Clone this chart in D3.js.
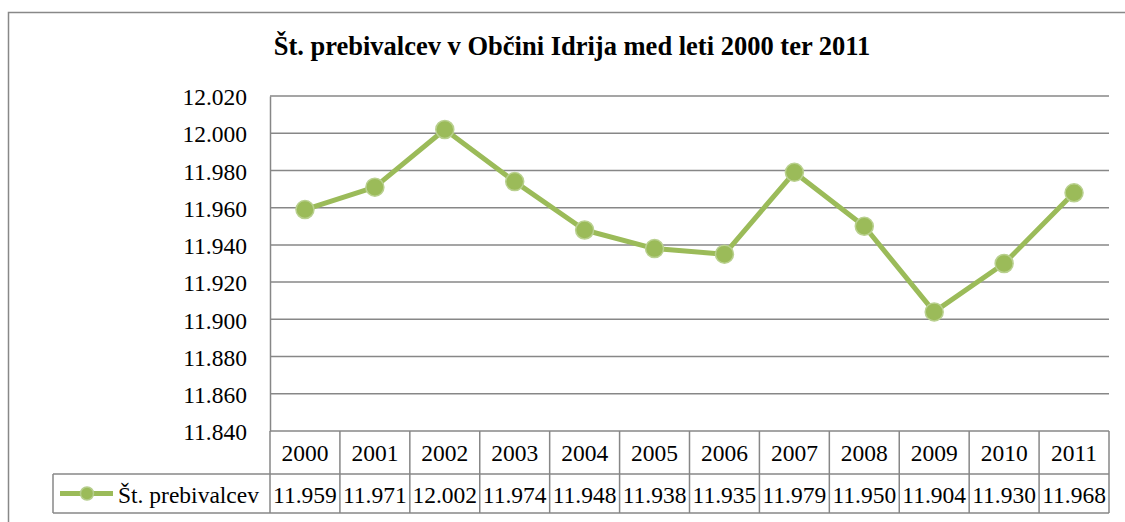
<!DOCTYPE html>
<html>
<head>
<meta charset="utf-8">
<script src="https://cdn.jsdelivr.net/npm/d3@7"></script>
<style>
  body { margin: 0; background: #fff; }
</style>
</head>
<body>
<svg class="chart" width="1125" height="522"></svg>
<script>
let years = ['2000', '2001', '2002', '2003', '2004', '2005', '2006', '2007', '2008', '2009', '2010', '2011'];
let residents = [11.959, 11.971, 12.002, 11.974, 11.948, 11.938, 11.935, 11.979, 11.950, 11.904, 11.930, 11.968];
let yTicks = [11.840, 11.860, 11.880, 11.900, 11.920, 11.940, 11.960, 11.980, 12.000, 12.020];
let seriesName = 'Št. prebivalcev';
let title = 'Št. prebivalcev v Občini Idrija med leti 2000 ter 2011';

let margin = {top: 96, left: 270, right: 1125 - 1109},
    plotBottom = 431, rowH1 = 43, rowH2 = 39;
let width = 1125 - margin.left - margin.right;

let green = '#9bbb59', gridColor = '#878787';
let serif = '"Liberation Serif"';
let fontSize = '23.5px';
let fmt = (v) => v.toFixed(3);

let svg = d3.select('.chart');

// outer frame
svg.append('rect')
    .attr('x', 8.5).attr('y', 12.5)
    .attr('width', 1140).attr('height', 540)
    .attr('fill', 'none').attr('stroke', '#888').attr('stroke-width', 1.5);

svg.append('text')
    .attr('x', 572).attr('y', 55)
    .attr('text-anchor', 'middle')
    .style('font-family', serif)
    .style('font-size', '26.5px').style('font-weight', 'bold')
    .text(title);

let x = d3.scaleBand().domain(years).range([margin.left, margin.left + width]);
let y = d3.scaleLinear().domain([11.840, 12.020]).range([plotBottom, margin.top]);

// gridlines
svg.append('g')
    .selectAll('line')
    .data(yTicks)
    .enter().append('line')
    .attr('x1', margin.left).attr('x2', margin.left + width)
    .attr('y1', (d) => y(d)).attr('y2', (d) => y(d))
    .attr('stroke', gridColor).attr('stroke-width', 1.5);

// y axis
let yAxis = d3.axisLeft(y).tickValues(yTicks).tickSize(0).tickPadding(23).tickFormat(fmt);
let yg = svg.append('g')
    .attr('transform', 'translate(' + margin.left + ',0)')
    .call(yAxis);
yg.select('.domain').attr('stroke', gridColor).attr('stroke-width', 1.5);
yg.selectAll('text')
    .style('font-family', serif).style('font-size', fontSize)
    .attr('dy', '0.37em');

// data table
let t1 = plotBottom, t2 = plotBottom + rowH1, t3 = t2 + rowH2;
let tbl = svg.append('g').attr('stroke', gridColor).attr('stroke-width', 1.5);
let colEdges = years.map((d) => x(d)).concat([margin.left + width]);
tbl.selectAll('line.col')
    .data(colEdges)
    .enter().append('line')
    .attr('class', 'col')
    .attr('x1', (d) => d).attr('x2', (d) => d)
    .attr('y1', t1).attr('y2', t3);
tbl.append('line').attr('x1', 53).attr('x2', margin.left + width).attr('y1', t2).attr('y2', t2);
tbl.append('line').attr('x1', 53).attr('x2', margin.left + width).attr('y1', t3).attr('y2', t3);
tbl.append('line').attr('x1', 53).attr('x2', 53).attr('y1', t2).attr('y2', t3);

svg.append('g').selectAll('text')
    .data(years)
    .enter().append('text')
    .attr('x', (d) => x(d) + x.bandwidth() / 2)
    .attr('y', t1 + rowH1 / 2 + 8.5)
    .attr('text-anchor', 'middle')
    .style('font-family', serif).style('font-size', fontSize)
    .text((d) => d);

svg.append('g').selectAll('text')
    .data(residents)
    .enter().append('text')
    .attr('x', (d, i) => x(years[i]) + x.bandwidth() / 2)
    .attr('y', t2 + rowH2 / 2 + 9)
    .attr('text-anchor', 'middle')
    .style('font-family', serif).style('font-size', fontSize)
    .text((d) => fmt(d));

// legend key
let ly = t2 + rowH2 / 2;
svg.append('line')
    .attr('x1', 60).attr('x2', 113).attr('y1', ly).attr('y2', ly)
    .attr('stroke', green).attr('stroke-width', 5);
svg.append('circle')
    .attr('cx', 87).attr('cy', ly).attr('r', 6.5)
    .attr('fill', green).attr('stroke', '#b5cd8c').attr('stroke-width', 1.5);
svg.append('text')
    .attr('x', 118).attr('y', ly + 9)
    .style('font-family', serif).style('font-size', fontSize)
    .text(seriesName);

// line + markers
let line = d3.line()
    .x((d, i) => x(years[i]) + x.bandwidth() / 2)
    .y((d) => y(d));
svg.append('path')
    .datum(residents)
    .attr('d', line)
    .attr('fill', 'none')
    .attr('stroke', green)
    .attr('stroke-width', 5)
    .attr('stroke-linejoin', 'round');

svg.append('g').selectAll('circle')
    .data(residents)
    .enter().append('circle')
    .attr('cx', (d, i) => x(years[i]) + x.bandwidth() / 2)
    .attr('cy', (d) => y(d))
    .attr('r', 9)
    .attr('fill', green)
    .attr('stroke', '#b9d08f')
    .attr('stroke-width', 1.5);
</script>
</body>
</html>
